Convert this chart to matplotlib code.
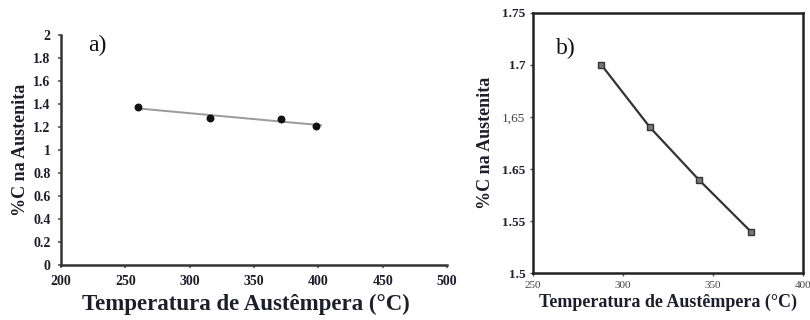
import matplotlib
matplotlib.use("Agg")
import matplotlib.pyplot as plt
import numpy as np

# panel a) - carbon in austenite vs austempering temperature
a_temp = [260, 316, 371, 398]
a_carbon = [1.37, 1.28, 1.27, 1.21]

# panel b)
b_temp = [288, 315, 342, 371]
b_carbon = [1.70, 1.64, 1.59, 1.54]

a_xticks = [200, 250, 300, 350, 400, 450, 500]
a_yticks = [0, 0.2, 0.4, 0.6, 0.8, 1, 1.2, 1.4, 1.6, 1.8, 2]
b_xticks = [250, 300, 350, 400]
b_yticks = [1.5, 1.55, 1.6, 1.65, 1.7, 1.75]
b_yticklabels = ["1.5", "1.55", "1.65", "1,65", "1.7", "1.75"]

XLABEL = "Temperatura de Austêmpera (°C)"
YLABEL = "%C na Austenita"
SERIF = ["Liberation Serif", "DejaVu Serif"]
TXT = "#1e1e2a"

plt.rcParams["font.family"] = SERIF

fig = plt.figure(figsize=(8.1, 3.2), dpi=100)
fig.patch.set_facecolor("white")

# ---- a)
ax1 = fig.add_axes([0.0753, 0.172, 0.4766, 0.7188])
ax1.scatter(a_temp, a_carbon, s=22, color="#111111", zorder=3)
coef = np.polyfit(a_temp, a_carbon, 1)
fit_x = np.array([min(a_temp), max(a_temp) + 4])
ax1.plot(fit_x, np.polyval(coef, fit_x), color="#9a9a9a", lw=1.4, zorder=2)

ax1.set_xlim(200, 500)
ax1.set_ylim(0, 2)
ax1.set_xticks(a_xticks)
ax1.set_yticks(a_yticks)
ax1.set_xticklabels([str(t) for t in a_xticks], fontsize=10, fontweight="bold", color=TXT)
ax1.set_yticklabels([f"{t:g}" for t in a_yticks], fontsize=10, fontweight="bold", color=TXT)
for side in ("top", "right"):
    ax1.spines[side].set_visible(False)
for side in ("left", "bottom"):
    ax1.spines[side].set_linewidth(1.8)
    ax1.spines[side].set_color("#333333")
ax1.tick_params(axis="both", direction="out", length=2.5, width=1.2, color="#555555", pad=5)
ax1.set_xlabel(XLABEL, fontsize=16.5, fontweight="bold", color=TXT)
ax1.xaxis.set_label_coords(0.478, -0.125)
ax1.set_ylabel(YLABEL, fontsize=13, fontweight="bold", color=TXT, labelpad=3)
ax1.text(0.07, 0.955, "a)", transform=ax1.transAxes, fontsize=17, ha="left", va="center", color="#111111")

# ---- b)
ax2 = fig.add_axes([0.658, 0.146, 0.3334, 0.814])
ax2.plot(b_temp, b_carbon, color="#333333", lw=1.6, marker="s", markersize=5,
         markerfacecolor="#777777", markeredgecolor="#333333", markeredgewidth=1.0)
ax2.set_xlim(250, 400)
ax2.set_ylim(1.5, 1.75)
ax2.set_xticks(b_xticks)
ax2.set_yticks(b_yticks)
ax2.set_xticklabels([str(t) for t in b_xticks], fontsize=8, color="#444444")
ax2.set_yticklabels(b_yticklabels, fontsize=9.5, fontweight="bold", color=TXT)
for lab in ax2.get_yticklabels():
    if lab.get_text() == "1,65":
        lab.set_fontweight("normal")
        lab.set_color("#444444")
for side in ax2.spines.values():
    side.set_linewidth(1.8)
    side.set_color("#222222")
ax2.tick_params(axis="both", direction="out", length=2.5, width=1.0, color="#555555", pad=3)
ax2.set_xlabel(XLABEL, fontsize=13, fontweight="bold", color=TXT, labelpad=3)
ax2.set_ylabel(YLABEL, fontsize=13, fontweight="bold", color=TXT, labelpad=6)
ax2.text(0.085, 0.865, "b)", transform=ax2.transAxes, fontsize=17, ha="left", va="center", color="#111111")

fig.savefig("out.png", dpi=100, facecolor="white")
